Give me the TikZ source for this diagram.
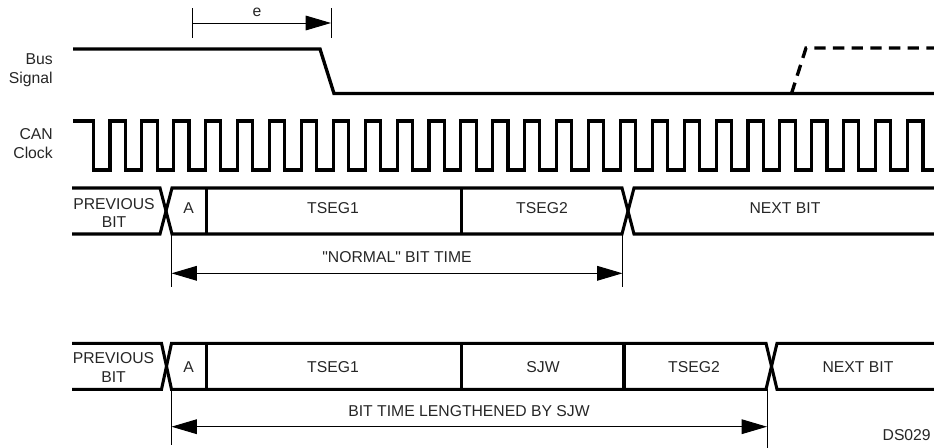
\documentclass[tikz,border=0pt]{standalone}
\usepackage{fontspec}
\setmainfont{Liberation Sans}
\usetikzlibrary{arrows.meta}

\begin{document}
\begin{tikzpicture}[
    x=0.75pt, y=-0.75pt,
    every node/.style={
        font=\fontsize{11.8}{14.2}\selectfont,
        text=black!85,
        inner sep=0pt
    },
    wave/.style={line width=2.3pt, line join=miter},
    busline/.style={line width=2.5pt},
    thinline/.style={line width=0.75pt},
    dimarrow/.style={
        line width=0.75pt,
        -{Triangle[length=19pt,width=11pt]}
    },
    bidim/.style={
        line width=0.75pt,
        {Triangle[length=19pt,width=11pt]}-{Triangle[length=19pt,width=11pt]}
    },
    sidelabel/.style={anchor=east, align=right},
    field/.style={align=center}
]
\useasboundingbox (0,0) rectangle (934,447);

\node (bus) [sidelabel] at (53,70) {Bus\\Signal};
\node (clk) [sidelabel] at (53,144) {CAN\\Clock};

\coordinate (eL) at (192,23);
\coordinate (eR) at (331,23);
\node (e) at (257,12.5) {e};
\draw [thinline] (eL) ++(0,-15) -- ++(0,30);
\draw [thinline] (eR) ++(0,-15) -- ++(0,30);
\draw [dimarrow] (eL) -- (eR);

\draw [busline] (73,49) -- (320,49) -- (334,93.5) -- (934,93.5);
\draw [busline, dash pattern=on 8.5pt off 5.5pt] (791.5,93.5) -- (806,48) -- (934,48);

\draw [wave] (73,121)
    \foreach \k in {0,...,25} {
        -- ({93.3+31.9*\k},121) -- ({93.3+31.9*\k},170)
        -- ({110+31.9*\k},170) -- ({110+31.9*\k},121)
    }
    -- (923,121) -- (923,170) -- (934,170);

\draw [wave] (72,188) -- (160,188) -- (172,234) -- (622,234) -- (634,188) -- (934,188);
\draw [wave] (72,234) -- (160,234) -- (172,188) -- (622,188) -- (634,234) -- (934,234);
\draw [wave] (206.7,188) -- (206.7,234);
\draw [wave] (461.7,188) -- (461.7,234);

\node (prev1) [field] at (114,213) {PREVIOUS\\BIT};
\node (a1) [field] at (188.5,208) {A};
\node (tsegA1) [field] at (333,208) {TSEG1};
\node (tsegB1) [field] at (542,208) {TSEG2};
\node (next1) [field] at (785,208) {NEXT BIT};

\coordinate (nL) at (171.5,273.3);
\coordinate (nR) at (622.5,273.3);
\draw [thinline] (nL) ++(0,-39) -- ++(0,53);
\draw [thinline] (nR) ++(0,-39) -- ++(0,53);
\draw [bidim] (nL) -- (nR);
\node (normal) at (397,257) {\textquotedbl NORMAL\textquotedbl{} BIT TIME};

\draw [wave] (72,343.3) -- (161.5,343.3) -- (171.5,389.3) -- (766,389.3) -- (777,343.3) -- (934,343.3);
\draw [wave] (72,389.3) -- (161.5,389.3) -- (171.5,343.3) -- (766,343.3) -- (777,389.3) -- (934,389.3);
\draw [wave] (206.7,343.3) -- (206.7,389.3);
\draw [wave] (461.7,343.3) -- (461.7,389.3);
\draw [wave] (624,343.3) -- (624,389.3);

\node (prev2) [field] at (113.5,367.5) {PREVIOUS\\BIT};
\node (a2) [field] at (188.5,367) {A};
\node (tsegA2) [field] at (333,367) {TSEG1};
\node (sjw) [field] at (543,367) {SJW};
\node (tsegB2) [field] at (694,367) {TSEG2};
\node (next2) [field] at (858,367) {NEXT BIT};

\coordinate (lL) at (171.5,426.7);
\coordinate (lR) at (767,426.7);
\draw [thinline] (lL) ++(0,-37.4) -- ++(0,56);
\draw [thinline] (lR) ++(0,-37.4) -- ++(0,60);
\draw [bidim] (lL) -- (lR);
\node (longer) at (469,411) {BIT TIME LENGTHENED BY SJW};

\node (ds) [anchor=base east] at (931,440) {DS029};

\end{tikzpicture}
\end{document}
